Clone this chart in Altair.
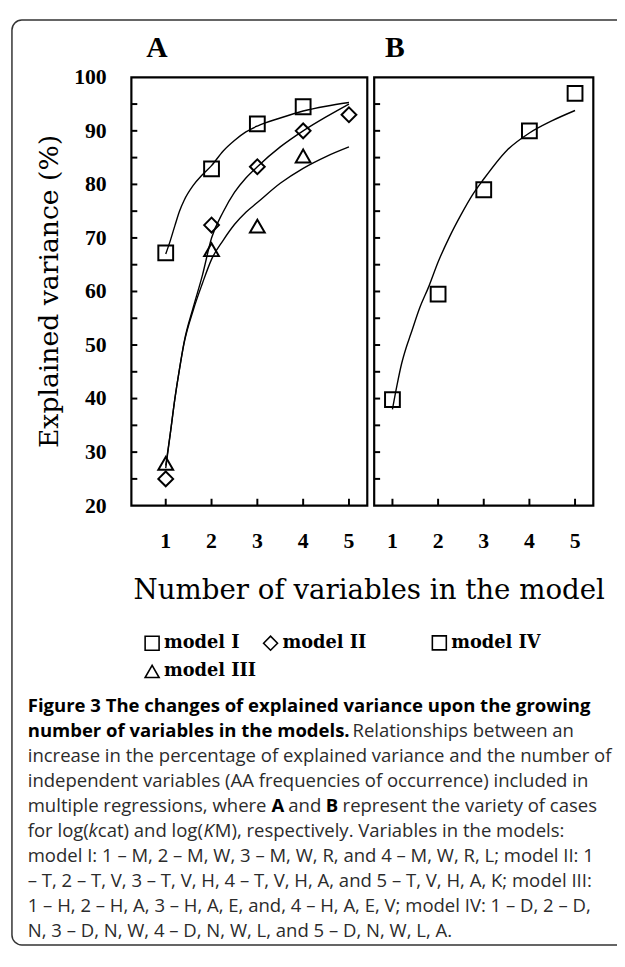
import altair as alt
import pandas as pd

# ---------------- data ----------------
n_vars = [1, 2, 3, 4, 5]
pts_model_I = [67.2, 82.9, 91.3, 94.5]
pts_model_II = [25.0, 72.4, 83.3, 90.0, 93.0]
pts_model_III = [27.9, 67.8, 72.2, 85.3]
pts_model_IV = [39.8, 59.5, 79.0, 90.0, 97.0]

curve_x = [1, 1.1, 1.2, 1.3, 1.4, 1.6, 1.8, 2, 2.25, 2.5, 2.75, 3, 3.5, 4, 4.5, 5]
curve_I = [67, 69.5, 72.3, 75, 77, 79.8, 81.8, 83.5, 86.2, 88.2, 89.8, 90.9, 92.4, 93.7, 94.6, 95.3]
curve_II = [27, 33.5, 40, 45.5, 50.5, 57, 63, 70, 74.8, 78.5, 81.2, 83.3, 87, 90, 92.6, 95]
curve_III = [27.5, 33.5, 40, 45.5, 50.3, 56.5, 61.5, 66, 69.5, 72.5, 74.8, 76.6, 80.2, 83, 85.2, 87]
curve_IV = [38, 42.5, 46.5, 49.5, 52, 57, 61, 65.5, 70.2, 74.3, 78, 81, 86.3, 89.6, 91.9, 93.8]

y_ticks = [25, 30, 35, 40, 45, 50, 55, 60, 65, 70, 75, 80, 85, 90, 95]
y_labels = [20, 30, 40, 50, 60, 70, 80, 90, 100]

models_A = ["model I", "model II", "model III"]
shapes_A = ["square", "diamond", "triangle-up"]
models_B = ["model IV"]

caption_lines = [
    "increase in the percentage of explained variance and the number of",
    "independent variables (AA frequencies of occurrence) included in",
    "model I: 1 \u2013 M, 2 \u2013 M, W, 3 \u2013 M, W, R, and 4 \u2013 M, W, R, L; model II: 1",
    "\u2013 T, 2 \u2013 T, V, 3 \u2013 T, V, H, 4 \u2013 T, V, H, A, and 5 \u2013 T, V, H, A, K; model III:",
    "1 \u2013 H, 2 \u2013 H, A, 3 \u2013 H, A, E, and, 4 \u2013 H, A, E, V; model IV: 1 \u2013 D, 2 \u2013 D,",
    "N, 3 \u2013 D, N, W, 4 \u2013 D, N, W, L, and 5 \u2013 D, N, W, L, A.",
]

# ---------------- tables ----------------
ptsA = pd.DataFrame(
    [{"n": x, "ev": v, "model": "model I"} for x, v in zip(n_vars, pts_model_I)]
    + [{"n": x, "ev": v, "model": "model II"} for x, v in zip(n_vars, pts_model_II)]
    + [{"n": x, "ev": v, "model": "model III"} for x, v in zip(n_vars, pts_model_III)]
)
ptsB = pd.DataFrame({"n": n_vars, "ev": pts_model_IV, "model": "model IV"})
curvesA = pd.DataFrame(
    [{"n": x, "ev": v, "model": "model I"} for x, v in zip(curve_x, curve_I)]
    + [{"n": x, "ev": v, "model": "model II"} for x, v in zip(curve_x, curve_II)]
    + [{"n": x, "ev": v, "model": "model III"} for x, v in zip(curve_x, curve_III)]
)
curvesB = pd.DataFrame({"n": curve_x, "ev": curve_IV, "model": "model IV"})
yt = pd.DataFrame({"v": y_ticks})
yl = pd.DataFrame({"v": y_labels})
xt = pd.DataFrame({"v": n_vars})

# ---------------- geometry ----------------
W, H = 468, 434
WA = 239
XB0 = 246
SERIF = "Liberation Serif"
SLAB = "DejaVu Serif"
SANS = "Open Sans"

xa_scale = alt.Scale(domain=[0.25, 5.4], range=[0, WA], nice=False, zero=False)
xb_scale = alt.Scale(domain=[0.6, 5.4], range=[XB0, W], nice=False, zero=False)
y_scale = alt.Scale(domain=[20, 100], nice=False, zero=False)


def legend(x, y, cols):
    return alt.Legend(
        orient="none", legendX=x, legendY=y, columns=cols, direction="horizontal", title=None,
        labelFont=SLAB, labelFontSize=18, labelFontWeight="bold", labelColor="black",
        symbolStrokeColor="black", symbolFillColor="transparent", symbolStrokeWidth=1.6,
        symbolSize=200, labelOffset=3, columnPadding=3, rowPadding=8, padding=0,
    )


one = pd.DataFrame({"k": [0]})


def frame(x0, x1):
    return alt.Chart(one).mark_rect(fill="white", fillOpacity=0, stroke="black", strokeWidth=2.2).encode(
        x=alt.value(x0), x2=alt.value(x1), y=alt.value(0), y2=alt.value(H)
    )


def yticks(x0):
    return alt.Chart(yt).mark_rule(color="black", strokeWidth=2).encode(
        y=alt.Y("v:Q", scale=y_scale, axis=None), x=alt.value(x0), x2=alt.value(x0 + 6)
    )


def xticks(sc):
    return alt.Chart(xt).mark_rule(color="black", strokeWidth=2).encode(
        x=alt.X("v:Q", scale=sc, axis=None), y=alt.value(H), y2=alt.value(H - 7)
    )


def xlabels(sc):
    return alt.Chart(xt).mark_text(
        font=SERIF, fontSize=22, fontWeight="bold", color="black", align="center", baseline="middle"
    ).encode(x=alt.X("v:Q", scale=sc, axis=None), y=alt.value(H + 36), text=alt.Text("v:Q", format="d"))


ylabels = alt.Chart(yl).mark_text(
    font=SERIF, fontSize=22, fontWeight="bold", color="black", align="right", baseline="middle"
).encode(y=alt.Y("v:Q", scale=y_scale, axis=None), x=alt.value(-25), text=alt.Text("v:Q", format="d"))

# ---------------- panel A ----------------
linesA = alt.Chart(curvesA).mark_line(interpolate="monotone", color="black", strokeWidth=1.4).encode(
    x=alt.X("n:Q", scale=xa_scale, axis=None),
    y=alt.Y("ev:Q", scale=y_scale, axis=None),
    detail="model:N",
)
pointsA = alt.Chart(ptsA).mark_point(filled=False, color="black", strokeWidth=2, size=225, opacity=1).encode(
    x=alt.X("n:Q", scale=xa_scale, axis=None),
    y=alt.Y("ev:Q", scale=y_scale, axis=None),
    shape=alt.Shape("model:N", scale=alt.Scale(domain=models_A, range=shapes_A), legend=legend(12, 564, 2)),
)
panelA = alt.layer(frame(0, WA), yticks(0), xticks(xa_scale), xlabels(xa_scale), ylabels, linesA, pointsA)

# ---------------- panel B ----------------
linesB = alt.Chart(curvesB).mark_line(interpolate="monotone", color="black", strokeWidth=1.4).encode(
    x=alt.X("n:Q", scale=xb_scale, axis=None),
    y=alt.Y("ev:Q", scale=y_scale, axis=None),
)
pointsB = alt.Chart(ptsB).mark_point(filled=False, color="black", strokeWidth=2, size=225, opacity=1).encode(
    x=alt.X("n:Q", scale=xb_scale, axis=None),
    y=alt.Y("ev:Q", scale=y_scale, axis=None),
    shape=alt.Shape("model:N", scale=alt.Scale(domain=models_B, range=["square"]), legend=legend(303, 564, 1)),
)
panelB = alt.layer(frame(XB0, W), yticks(XB0), xticks(xb_scale), xlabels(xb_scale), linesB, pointsB)


# ---------------- decorations ----------------
def txt(s, x, y, size, font, weight="normal", style="normal", align="left", color="black", angle=0):
    return alt.Chart(one).mark_text(
        text=s, font=font, fontSize=size, fontWeight=weight, fontStyle=style,
        align=align, baseline="middle", color=color, angle=angle,
    ).encode(x=alt.value(x), y=alt.value(y))


box = alt.Chart(one).mark_rect(
    cornerRadius=10, fill="white", fillOpacity=0, stroke="#333333", strokeWidth=1.5
).encode(x=alt.value(-121), x2=alt.value(W + 60), y=alt.value(-58), y2=alt.value(879))

OX = 133  # page x of plot origin
CX = 28 - OX
CY0 = 709 - 72
LH = 25.3
CAP = "#2b2b2b"
CS = 18.75


def px(x):
    return x - OX


deco = [
    box,
    txt("A", 26, -30, 30, SERIF, "bold", align="center"),
    txt("B", 267, -30, 30, SERIF, "bold", align="center"),
    txt("Explained variance (%)", -82, H / 2, 27, SLAB, align="center", angle=270),
    txt("Number of variables in the model", 241, 521, 28, SLAB, align="center"),
    txt("Figure 3 The changes of explained variance upon the growing", CX, CY0, CS, SANS, "bold", color="black"),
    txt("number of variables in the models.", CX, CY0 + LH, CS, SANS, "bold", color="black"),
    txt("Relationships between an", px(357), CY0 + LH, CS, SANS, color=CAP),
    txt("multiple regressions, where", CX, CY0 + 4 * LH, CS, SANS, color=CAP),
    txt("A", px(275), CY0 + 4 * LH, CS, SANS, "bold", color="black"),
    txt("and", px(292), CY0 + 4 * LH, CS, SANS, color=CAP),
    txt("B", px(330), CY0 + 4 * LH, CS, SANS, "bold", color="black"),
    txt("represent the variety of cases", px(347), CY0 + 4 * LH, CS, SANS, color=CAP),
    txt("for log(", CX, CY0 + 5 * LH, CS, SANS, color=CAP),
    txt("k", px(89.5), CY0 + 5 * LH, CS, SANS, style="italic", color=CAP),
    txt("cat) and log(", px(99), CY0 + 5 * LH, CS, SANS, color=CAP),
    txt("K", px(206), CY0 + 5 * LH, CS, SANS, style="italic", color=CAP),
    txt("M), respectively. Variables in the models:", px(217.5), CY0 + 5 * LH, CS, SANS, color=CAP),
]
for i, line in zip([2, 3, 6, 7, 8, 9], caption_lines):
    deco.append(txt(line, CX, CY0 + i * LH, CS, SANS, color=CAP))

chart = alt.layer(panelA, panelB, *deco).resolve_scale(x="independent", shape="independent").properties(
    width=W, height=H,
    autosize=alt.AutoSizeParams(type="none"),
    padding={"left": 125, "top": 64, "right": 24, "bottom": 446},
    background="white",
).configure_view(strokeWidth=0)

chart.save("out.html", embed_options={"renderer": "svg", "actions": False})
